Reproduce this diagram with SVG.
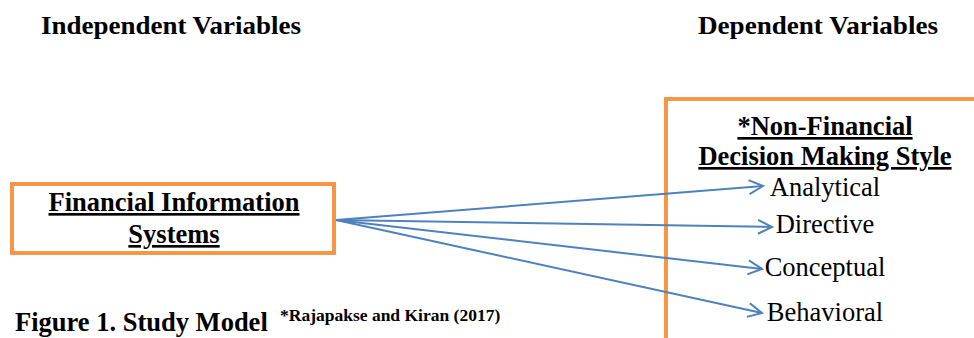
<svg xmlns="http://www.w3.org/2000/svg" width="974" height="338" viewBox="0 0 974 338">
<style>
.t{font-family:"Liberation Serif","Times New Roman",serif;fill:#000}
.b{font-weight:bold}
.u{text-decoration:underline}
.box{fill:#fff;stroke:#F79646;stroke-width:4}
.c{fill:none;stroke:#4F81BD;stroke-width:2}
</style>
<defs>
<marker id="ah" markerUnits="userSpaceOnUse" markerWidth="20" markerHeight="20" refX="15" refY="8" orient="auto" viewBox="0 0 20 16">
<path d="M1,1 L15,8 L1,15" fill="none" stroke="#4F81BD" stroke-width="2"/>
</marker>
</defs>
<rect width="974" height="338" fill="#fff"/>
<g id="header-independent"><text class="t b" x="41" y="34" font-size="25" textLength="260" lengthAdjust="spacingAndGlyphs">Independent Variables</text></g>
<g id="header-dependent"><text class="t b" x="698" y="34" font-size="25" textLength="240" lengthAdjust="spacingAndGlyphs">Dependent Variables</text></g>
<g id="dependent-box">
<path class="box" d="M976,99 L666,99 L666,340"/>
<text class="t b u" x="825" y="135" font-size="26.5" text-anchor="middle">*Non-Financial</text>
<text class="t b u" x="825" y="165" font-size="26.5" text-anchor="middle">Decision Making Style</text>
</g>
<g id="fis">
<rect class="box" x="12" y="184" width="322" height="69"/>
<text class="t b u" x="174" y="211" font-size="26.5" text-anchor="middle">Financial Information</text>
<text class="t b u" x="174" y="243" font-size="26.5" text-anchor="middle">Systems</text>
</g>
<g id="analytical"><text class="t" x="825" y="196" font-size="26.5" text-anchor="middle">Analytical</text></g>
<g id="directive"><text class="t" x="825" y="233" font-size="26.5" text-anchor="middle">Directive</text></g>
<g id="conceptual"><text class="t" x="825" y="276" font-size="26.5" text-anchor="middle">Conceptual</text></g>
<g id="behavioral"><text class="t" x="825" y="321" font-size="26.5" text-anchor="middle">Behavioral</text></g>
<g id="connectors">
<line class="c" x1="336" y1="220" x2="763" y2="186" marker-end="url(#ah)"/>
<line class="c" x1="336" y1="220" x2="772" y2="227" marker-end="url(#ah)"/>
<line class="c" x1="336" y1="220" x2="762" y2="269" marker-end="url(#ah)"/>
<line class="c" x1="336" y1="220" x2="762" y2="313" marker-end="url(#ah)"/>
</g>
<g id="caption">
<text class="t b" x="15" y="331" font-size="26.5">Figure 1. Study Model</text>
<text class="t b" x="280" y="321" font-size="17.5">*Rajapakse and Kiran (2017)</text>
</g>
</svg>
